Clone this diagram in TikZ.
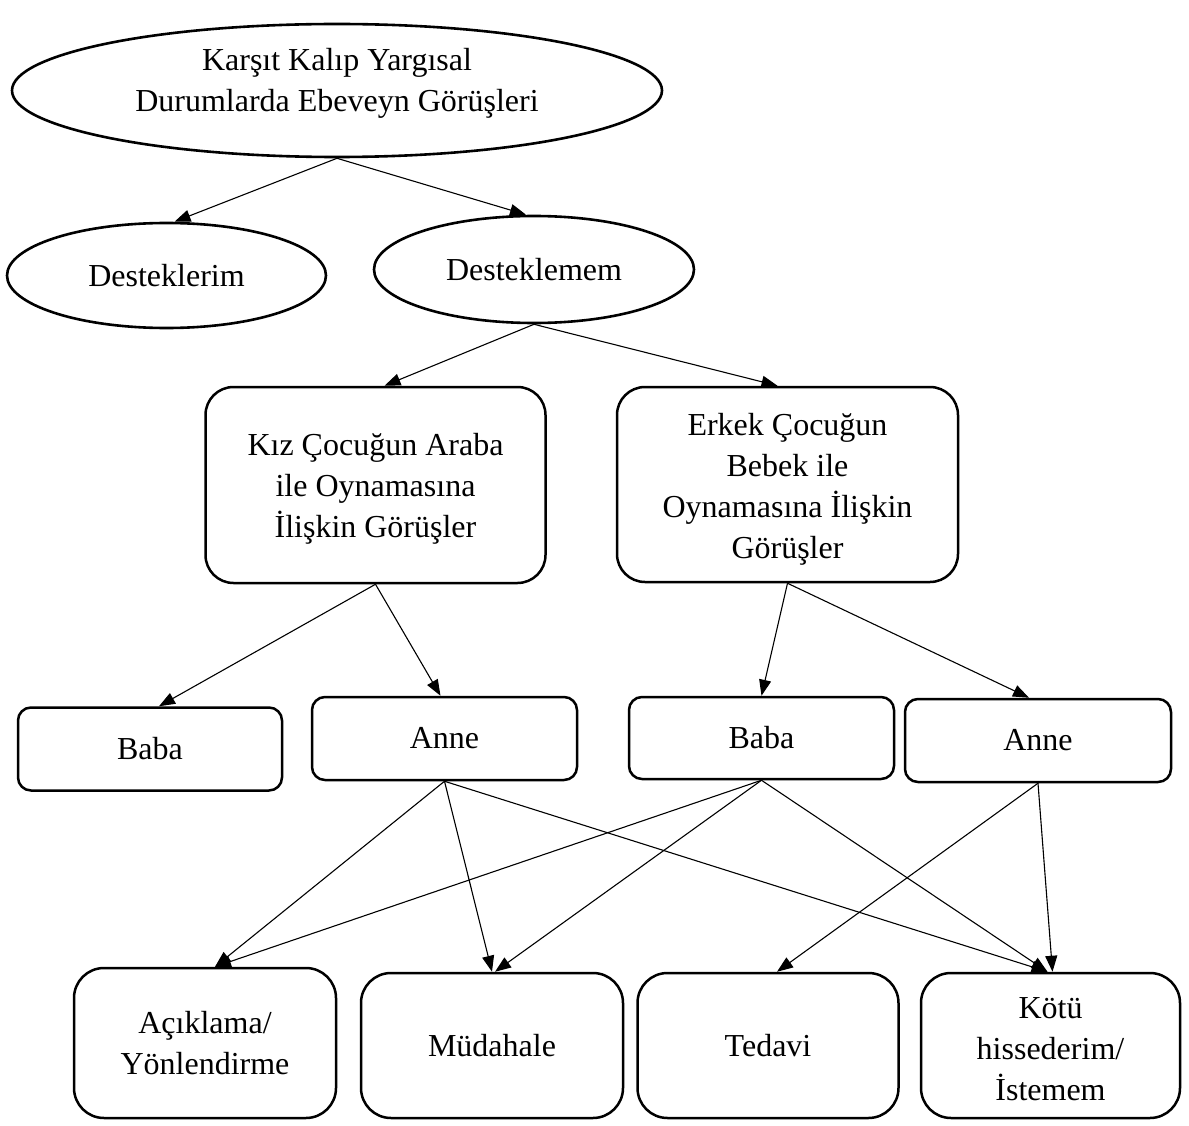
\documentclass[tikz,border=0pt]{standalone}
\usepackage{fontspec}
\setmainfont{Liberation Serif}
\usetikzlibrary{shapes.geometric,arrows.meta}
\begin{document}
\begin{tikzpicture}[x=1pt,y=-1pt,
  every node/.style={font=\fontsize{32}{41}\selectfont, align=center, inner sep=0pt},
  ell/.style={draw, ellipse, line width=2.6pt},
  rbox/.style={draw, rectangle, rounded corners=#1, line width=2.5pt},
  rbox/.default=28pt,
  arr/.style={-{Triangle[length=16pt,width=12pt]}, line width=1.1pt}]
\path[use as bounding box, fill=white] (0,0) rectangle (1189,1126);

\node[ell, minimum width=650, minimum height=133] (top) at (337,90.5)
  {Karşıt Kalıp Yargısal\\Durumlarda Ebeveyn Görüşleri\vphantom{p}\\[-20pt]};
\node[ell, minimum width=319, minimum height=105] (d1) at (166.5,275.5) {Desteklerim};
\node[ell, minimum width=320, minimum height=107] (d2) at (534,269.5) {Desteklemem};

\node[rbox, minimum width=340, minimum height=196] (kiz) at (375.5,485)
  {\\[-12pt]Kız Çocuğun Araba\\ile Oynamasına\\İlişkin Görüşler};
\node[rbox, minimum width=341, minimum height=195] (erk) at (787.5,484.5)
  {\\[-10pt]Erkek Çocuğun\\Bebek ile\\Oynamasına İlişkin\\Görüşler};

\node[rbox=13pt, minimum width=264, minimum height=83] (baba1) at (150,749) {Baba};
\node[rbox=13pt, minimum width=265, minimum height=83] (anne1) at (444.5,738.5) {Anne};
\node[rbox=13pt, minimum width=265, minimum height=82] (baba2) at (761.5,738) {Baba};
\node[rbox=13pt, minimum width=266, minimum height=83] (anne2) at (1038,740.5) {Anne};

\node[rbox=30pt, minimum width=262, minimum height=150] (ack) at (205,1043) {Açıklama/\\Yönlendirme};
\node[rbox=30pt, minimum width=262, minimum height=145] (mud) at (492,1045.5) {Müdahale};
\node[rbox=30pt, minimum width=261, minimum height=145] (ted) at (768,1045.5) {Tedavi};
\node[rbox=30pt, minimum width=259, minimum height=145] (kot) at (1050.5,1045.5) {\\[-12pt]Kötü\\hissederim/\\İstemem};

\draw[arr] (top.south) -- ([xshift=8pt]d1.north);
\draw[arr] (top.south) -- ([xshift=-8pt]d2.north);
\draw[arr] (d2.south) -- ([xshift=9pt]kiz.north);
\draw[arr] (d2.south) -- ([xshift=-10pt]erk.north);
\draw[arr] (kiz.south) -- ([xshift=9pt]baba1.north);
\draw[arr] (kiz.south) -- ([xshift=-4pt]anne1.north);
\draw[arr] (erk.south) -- (baba2.north);
\draw[arr] (erk.south) -- ([xshift=-9pt]anne2.north);
\draw[arr] (anne1.south) -- ([xshift=10pt]ack.north);
\draw[arr] (anne1.south) -- (mud.north);
\draw[arr] (anne1.south) -- ([xshift=-3pt]kot.north);
\draw[arr] (baba2.south) -- ([xshift=10pt]ack.north);
\draw[arr] (baba2.south) -- ([xshift=3pt]mud.north);
\draw[arr] (baba2.south) -- ([xshift=-3pt]kot.north);
\draw[arr] (anne2.south) -- ([xshift=9pt]ted.north);
\draw[arr] (anne2.south) -- ([xshift=2pt]kot.north);
\end{tikzpicture}
\end{document}
